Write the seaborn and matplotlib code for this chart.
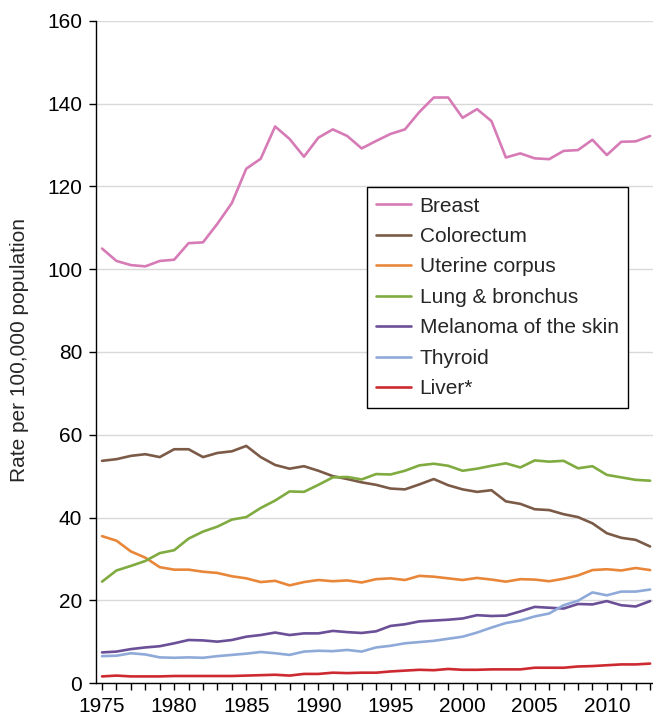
import numpy as np
import pandas as pd
import seaborn as sns
import matplotlib.pyplot as plt

years = list(range(1975, 2014))

breast = [105.0, 102.0, 101.0, 100.7, 102.0, 102.3, 106.3, 106.5, 111.0, 116.0,
          124.3, 126.7, 134.5, 131.5, 127.2, 131.8, 133.8, 132.2, 129.2, 131.0,
          132.7, 133.8, 138.0, 141.5, 141.5, 136.6, 138.7, 135.8, 127.0, 128.0,
          126.8, 126.6, 128.6, 128.8, 131.3, 127.6, 130.8, 130.9, 132.2]
colorectum = [53.7, 54.1, 54.9, 55.3, 54.6, 56.5, 56.5, 54.6, 55.6, 56.0,
              57.3, 54.6, 52.7, 51.8, 52.4, 51.3, 50.0, 49.3, 48.5, 47.9,
              47.0, 46.8, 48.0, 49.3, 47.8, 46.8, 46.2, 46.6, 43.9, 43.3,
              42.0, 41.8, 40.8, 40.1, 38.6, 36.2, 35.1, 34.6, 33.0]
uterine = [35.5, 34.4, 31.8, 30.3, 28.0, 27.4, 27.4, 26.9, 26.6, 25.8,
           25.3, 24.4, 24.7, 23.6, 24.4, 24.9, 24.6, 24.8, 24.3, 25.1,
           25.3, 24.9, 25.9, 25.7, 25.3, 24.9, 25.4, 25.0, 24.5, 25.1,
           25.0, 24.6, 25.2, 26.0, 27.3, 27.5, 27.2, 27.8, 27.3]
lung = [24.5, 27.2, 28.3, 29.5, 31.4, 32.1, 34.9, 36.6, 37.8, 39.5,
        40.1, 42.3, 44.1, 46.3, 46.2, 47.9, 49.7, 49.8, 49.2, 50.5,
        50.4, 51.3, 52.6, 53.0, 52.5, 51.3, 51.8, 52.5, 53.1, 52.1,
        53.8, 53.5, 53.7, 51.9, 52.4, 50.3, 49.7, 49.1, 48.9]
melanoma = [7.4, 7.6, 8.2, 8.6, 8.9, 9.6, 10.4, 10.3, 10.0, 10.4,
            11.2, 11.6, 12.2, 11.6, 12.0, 12.0, 12.6, 12.3, 12.1, 12.5,
            13.8, 14.2, 14.9, 15.1, 15.3, 15.6, 16.4, 16.2, 16.3, 17.3,
            18.4, 18.2, 18.0, 19.1, 19.0, 19.8, 18.8, 18.5, 19.8]
thyroid = [6.5, 6.6, 7.2, 6.9, 6.2, 6.1, 6.2, 6.1, 6.5, 6.8,
           7.1, 7.5, 7.2, 6.8, 7.6, 7.8, 7.7, 8.0, 7.6, 8.6,
           9.0, 9.6, 9.9, 10.2, 10.7, 11.2, 12.2, 13.4, 14.5, 15.1,
           16.1, 16.8, 18.8, 19.9, 21.9, 21.2, 22.1, 22.1, 22.6]
liver = [1.6, 1.8, 1.6, 1.6, 1.6, 1.7, 1.7, 1.7, 1.7, 1.7,
         1.8, 1.9, 2.0, 1.8, 2.2, 2.2, 2.5, 2.4, 2.5, 2.5,
         2.8, 3.0, 3.2, 3.1, 3.4, 3.2, 3.2, 3.3, 3.3, 3.3,
         3.7, 3.7, 3.7, 4.0, 4.1, 4.3, 4.5, 4.5, 4.7]

sites = ["Breast", "Colorectum", "Uterine corpus", "Lung & bronchus",
         "Melanoma of the skin", "Thyroid", "Liver*"]
colors = ["#d67bb6", "#7b5b47", "#e8873a", "#80ab40", "#6b4f97", "#8faad9", "#cc2a30"]

df = pd.concat([pd.DataFrame({"year": years, "rate": v, "site": s})
                for s, v in zip(sites, [breast, colorectum, uterine, lung,
                                        melanoma, thyroid, liver])])

sns.set_style("white")
plt.rcParams['font.family'] = ['Liberation Sans', 'DejaVu Sans']
fs = 15

fig = plt.figure(figsize=(6.53, 7.18), dpi=100)
ax = fig.add_axes([0.147, 0.0487, 0.853, 0.9221])

sns.lineplot(data=df, x="year", y="rate", hue="site", hue_order=sites,
             palette=dict(zip(sites, colors)), linewidth=1.9, ax=ax)

ax.set_xlim(1974.58, 2013.2)
ax.set_ylim(0, 160)
ax.set_yticks(np.arange(0, 161, 20))
ax.set_xticks(years)
ax.set_xticklabels([str(y) if y % 5 == 0 else "" for y in years])
ax.tick_params(axis="both", direction="out", length=5, width=1, colors="black",
               labelsize=fs, pad=5, left=True, bottom=True)
ax.yaxis.grid(True, color="#d9d9d9", linewidth=1)
ax.set_axisbelow(True)
for side in ["top", "right"]:
    ax.spines[side].set_visible(False)
for side in ["left", "bottom"]:
    ax.spines[side].set_color("black")
    ax.spines[side].set_linewidth(1)

ax.set_xlabel("")
ax.set_ylabel("Rate per 100,000 population", fontsize=fs)
ax.yaxis.set_label_coords(-0.12, 0.503)

leg = ax.legend(loc="upper left", bbox_to_anchor=(0.4865, 0.749), fontsize=fs,
                frameon=True, fancybox=False, edgecolor="black", framealpha=1,
                labelspacing=0.55, handlelength=1.68, handletextpad=0.4,
                borderpad=0.45, borderaxespad=0)
leg.get_frame().set_linewidth(1)

plt.savefig("out.png", dpi=100)
